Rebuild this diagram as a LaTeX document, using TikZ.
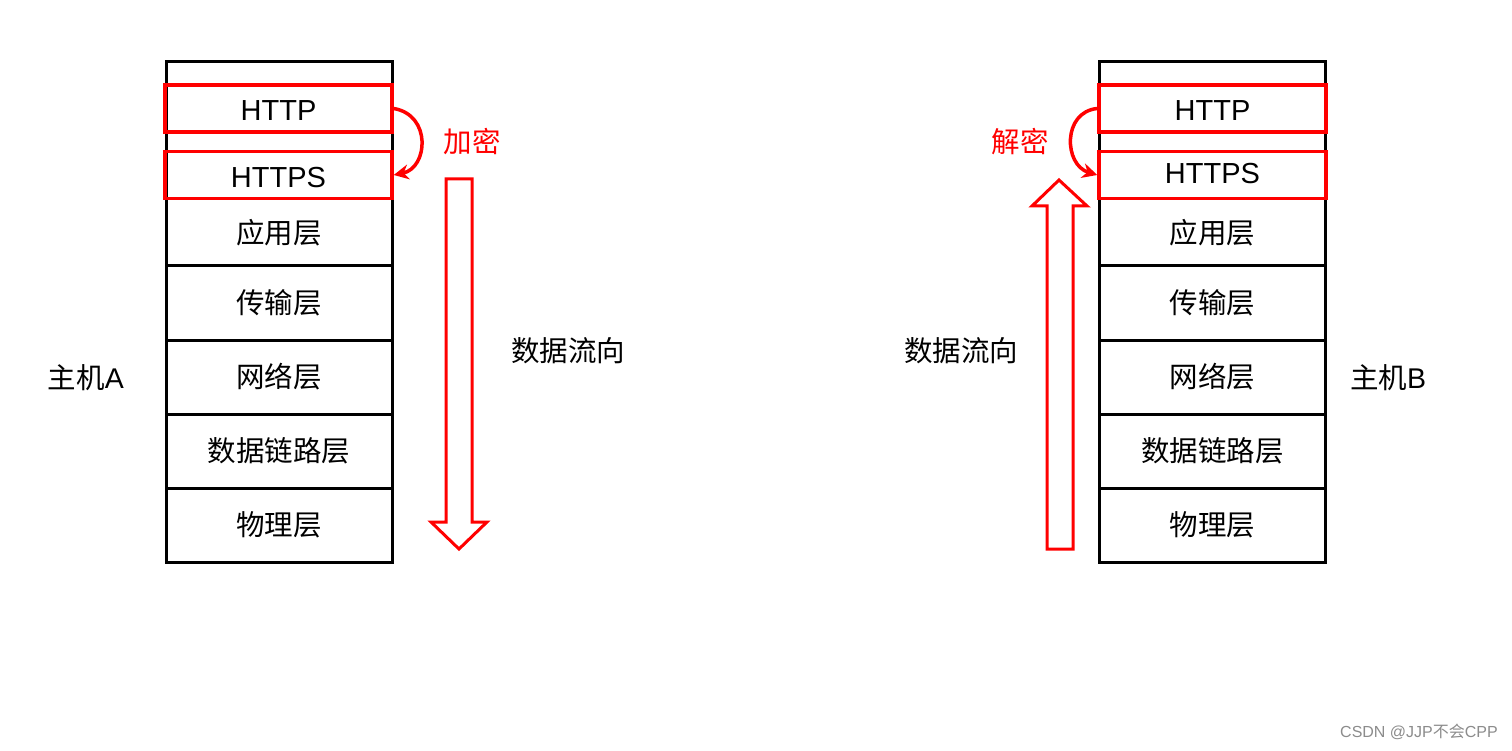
\documentclass[tikz,border=0pt]{standalone}
\usepackage{fontspec}
\setmainfont{Liberation Sans}
\newfontfamily\cjk{Noto Sans CJK SC}
\usetikzlibrary{arrows.meta}
\definecolor{myred}{RGB}{255,0,0}
\tikzset{
  layer/.style={draw=black, line width=3pt, minimum width=226pt, inner sep=0pt, font=\fontsize{28.5}{30}\selectfont\cjk},
  redbox/.style={draw=myred, line width=3.5pt, minimum width=227pt, minimum height=47pt, inner sep=0pt, font=\fontsize{29}{30}\selectfont},
  lbl/.style={inner sep=0pt, font=\fontsize{28.5}{30}\selectfont\cjk},
  redlbl/.style={lbl, text=myred},
  curvearrow/.style={draw=myred, line width=3.5pt, -{Stealth[length=15pt,width=15pt]}},
  blockarrow/.style={draw=myred, line width=3pt, fill=white, line join=miter},
}
\begin{document}
\begin{tikzpicture}[x=1pt,y=-1pt]
\useasboundingbox[fill=white] (0,0) rectangle (1512,751);
% ---------- Host A ----------
\node[layer, minimum height=500pt] (aframe) at (279,312) {};
\node[layer, minimum height=67pt] (aapp) at (279,232.5) {应用层};
\node[layer, minimum height=74pt] (atrans) at (279,303) {传输层};
\node[layer, minimum height=74pt] (anet) at (279,377) {网络层};
\node[layer, minimum height=74pt] (alink) at (279,451) {数据链路层};
\node[layer, minimum height=74pt] (aphy) at (279,525) {物理层};
\node[redbox, text height=25pt, text depth=0pt] (ahttp) at (278.5,108.5) {HTTP};
\node[redbox, text height=26pt, text depth=0pt] (ahttps) at (278.5,175) {HTTPS};
\draw[curvearrow] (ahttp.east) .. controls (432,115) and (428,168) .. (ahttps.east);
\node[redlbl] (enc) at (472,142) {加密};
\draw[blockarrow] (446,179) -- (472,179) -- (472,522) -- (487,522) -- (459,549) -- (431,522) -- (446,522) -- cycle;
\node[lbl] (flowA) at (568,351) {数据流向};
\node[lbl] (hostA) at (86,378) {主机{\fontspec{Liberation Sans}A}};
% ---------- Host B ----------
\node[layer, minimum height=500pt] (bframe) at (1212.5,312) {};
\node[layer, minimum height=67pt] (bapp) at (1212.5,232.5) {应用层};
\node[layer, minimum height=74pt] (btrans) at (1212.5,303) {传输层};
\node[layer, minimum height=74pt] (bnet) at (1212.5,377) {网络层};
\node[layer, minimum height=74pt] (blink) at (1212.5,451) {数据链路层};
\node[layer, minimum height=74pt] (bphy) at (1212.5,525) {物理层};
\node[redbox, text height=25pt, text depth=0pt] (bhttp) at (1212.5,108.5) {HTTP};
\node[redbox, text height=22pt, text depth=4pt] (bhttps) at (1212.5,175) {HTTPS};
\draw[curvearrow] (bhttp.west) .. controls (1062,112) and (1064,165) .. (bhttps.west);
\node[redlbl] (dec) at (1020,142) {解密};
\draw[blockarrow] (1047,549) -- (1073,549) -- (1073,206) -- (1087,206) -- (1059,180) -- (1032,206) -- (1047,206) -- cycle;
\node[lbl] (flowB) at (961,351) {数据流向};
\node[lbl] (hostB) at (1388,378) {主机{\fontspec{Liberation Sans}B}};
% watermark
\node[inner sep=0pt, text=black!45, font=\fontsize{16}{18}\selectfont] (wm) at (1419,732) {CSDN @JJP{\cjk 不会}CPP};
\end{tikzpicture}
\end{document}
